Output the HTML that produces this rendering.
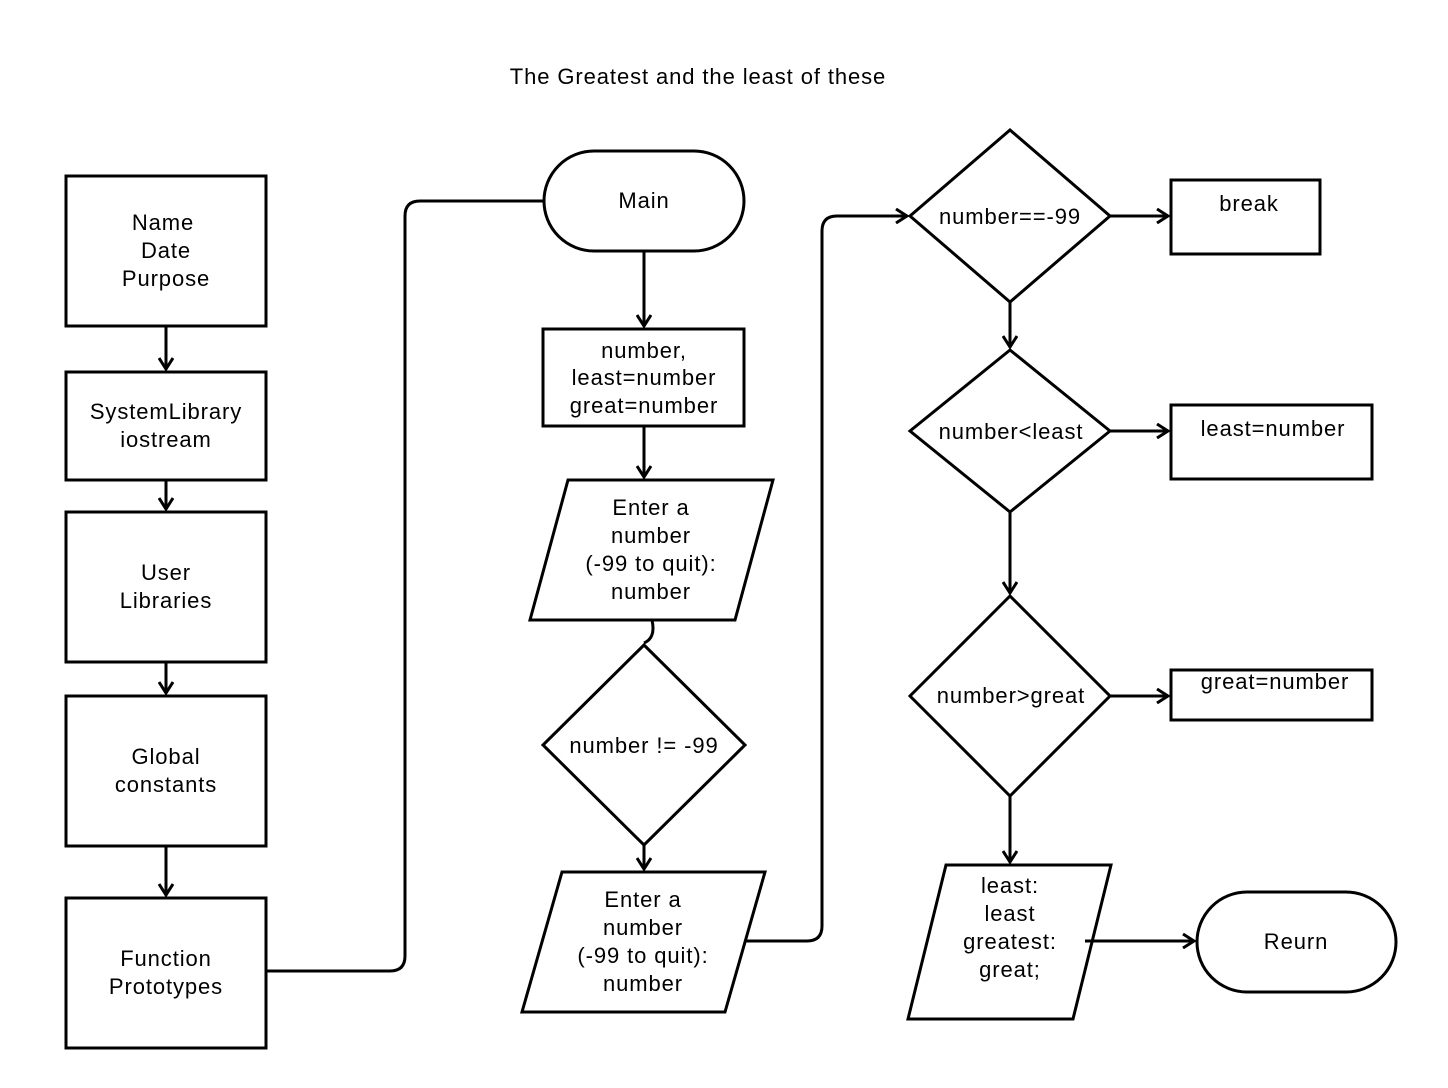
<!DOCTYPE html>
<html><head><meta charset="utf-8"><style>body{margin:0;background:#fff}svg{display:block}text{font-family:"Liberation Sans",Arial,sans-serif;font-size:22px;letter-spacing:0.9px;fill:#000;text-anchor:middle}</style></head><body>
<svg width="1448" height="1088" viewBox="0 0 1448 1088" xmlns="http://www.w3.org/2000/svg">
<defs><marker id="a" markerWidth="14" markerHeight="16" refX="12" refY="8" orient="auto" markerUnits="userSpaceOnUse" viewBox="0 0 14 16"><path d="M1,1 L12,8 L1,15" fill="none" stroke="#000" stroke-width="3"/></marker></defs>
<g fill="#fff" stroke="#000" stroke-width="3">
<rect x="66" y="176" width="200" height="150"/>
<rect x="66" y="372" width="200" height="108"/>
<rect x="66" y="512" width="200" height="150"/>
<rect x="66" y="696" width="200" height="150"/>
<rect x="66" y="898" width="200" height="150"/>
<rect x="544" y="151" width="200" height="100" rx="50"/>
<rect x="543" y="329" width="201" height="97"/>
<polygon points="568,480 773,480 735,620 530,620"/>
<polygon points="644,645 745,745 644,845 543,745"/>
<polygon points="562,872 765,872 725,1012 522,1012"/>
<polygon points="1010,130 1110,216 1010,302 910,216"/>
<rect x="1171" y="180" width="149" height="74"/>
<polygon points="1010,350 1110,431 1010,512 910,431"/>
<rect x="1171" y="405" width="201" height="74"/>
<polygon points="1010,596 1110,696 1010,796 910,696"/>
<rect x="1171" y="670" width="201" height="50"/>
<polygon points="946,865 1111,865 1073,1019 908,1019"/>
<rect x="1197" y="892" width="199" height="100" rx="50"/>
</g>
<g fill="none" stroke="#000" stroke-width="3">
<line x1="166" y1="326" x2="166" y2="369" marker-end="url(#a)"/>
<line x1="166" y1="480" x2="166" y2="509" marker-end="url(#a)"/>
<line x1="166" y1="662" x2="166" y2="693" marker-end="url(#a)"/>
<line x1="166" y1="846" x2="166" y2="895" marker-end="url(#a)"/>
<path d="M266,971 H390 Q405,971 405,956 V216 Q405,201 420,201 H544"/>
<line x1="644" y1="251" x2="644" y2="326" marker-end="url(#a)"/>
<line x1="644" y1="426" x2="644" y2="477" marker-end="url(#a)"/>
<path d="M652,620 Q656,638 644,643"/>
<line x1="644" y1="845" x2="644" y2="869" marker-end="url(#a)"/>
<path d="M745,941 H807 Q822,941 822,926 V231 Q822,216 837,216 H907" marker-end="url(#a)"/>
<line x1="1110" y1="216" x2="1168" y2="216" marker-end="url(#a)"/>
<line x1="1010" y1="302" x2="1010" y2="347" marker-end="url(#a)"/>
<line x1="1110" y1="431" x2="1168" y2="431" marker-end="url(#a)"/>
<line x1="1010" y1="512" x2="1010" y2="593" marker-end="url(#a)"/>
<line x1="1110" y1="696" x2="1168" y2="696" marker-end="url(#a)"/>
<line x1="1010" y1="796" x2="1010" y2="862" marker-end="url(#a)"/>
<line x1="1085" y1="941" x2="1194" y2="941" marker-end="url(#a)"/>
</g>
<text x="698" y="84">The Greatest and the least of these</text>
<text x="163" y="230">Name</text><text x="166" y="258">Date</text><text x="166" y="286">Purpose</text>
<text x="166" y="419">SystemLibrary</text><text x="166" y="447">iostream</text>
<text x="166" y="580">User</text><text x="166" y="608">Libraries</text>
<text x="166" y="764">Global</text><text x="166" y="792">constants</text>
<text x="166" y="966">Function</text><text x="166" y="994">Prototypes</text>
<text x="644" y="208">Main</text>
<text x="644" y="358">number,</text><text x="644" y="385">least=number</text><text x="644" y="413">great=number</text>
<text x="651" y="515">Enter a</text><text x="651" y="543">number</text><text x="651" y="571">(-99 to quit):</text><text x="651" y="599">number</text>
<text x="644" y="753">number != -99</text>
<text x="643" y="907">Enter a</text><text x="643" y="935">number</text><text x="643" y="963">(-99 to quit):</text><text x="643" y="991">number</text>
<text x="1010" y="224">number==-99</text>
<text x="1249" y="211">break</text>
<text x="1011" y="439">number&lt;least</text>
<text x="1273" y="436">least=number</text>
<text x="1011" y="703">number&gt;great</text>
<text x="1275" y="689">great=number</text>
<text x="1010" y="893">least:</text><text x="1010" y="921">least</text><text x="1010" y="949">greatest:</text><text x="1010" y="977">great;</text>
<text x="1296" y="949">Reurn</text>
</svg>
</body></html>
